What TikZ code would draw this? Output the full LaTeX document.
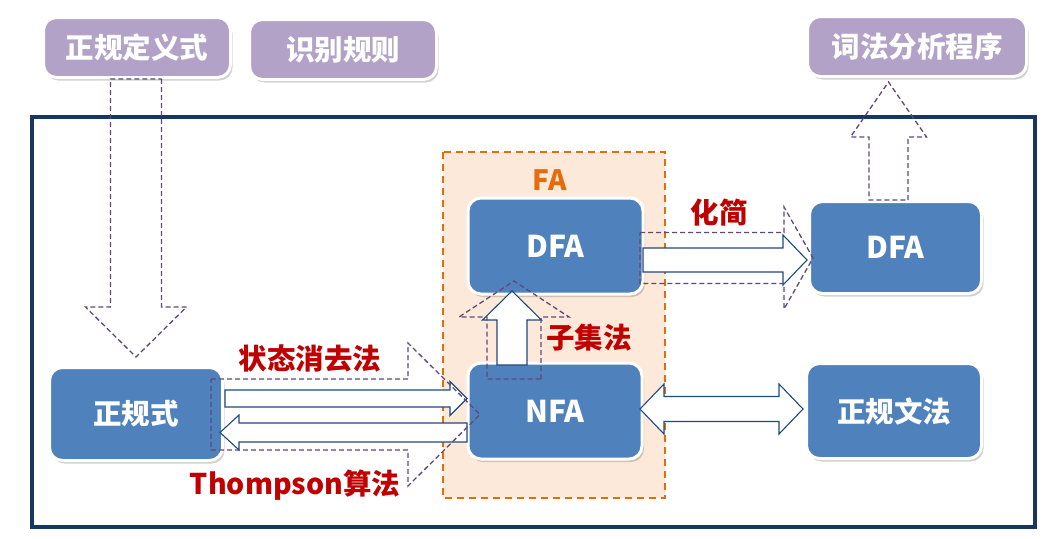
\documentclass[tikz,border=0pt]{standalone}
\usepackage{fontspec}
\setmainfont{Noto Sans CJK SC}
\usetikzlibrary{shadows,calc}
\definecolor{boxblue}{HTML}{4F81BD}
\definecolor{boxpurple}{HTML}{B3A2C7}
\definecolor{framenavy}{HTML}{17375E}
\definecolor{dashpurple}{HTML}{5F497A}
\definecolor{arrnavy}{HTML}{1F497D}
\definecolor{labred}{HTML}{C00000}
\definecolor{faorange}{HTML}{E46C0A}
\definecolor{fafill}{HTML}{FDE9D9}
\tikzset{
 basebox/.style={rounded corners=13pt, draw=white, line width=3pt, text=white,
   font=\bfseries\fontsize{28.5}{32}\selectfont, inner sep=0pt,
   drop shadow={shadow xshift=2pt, shadow yshift=-3pt, opacity=0.3, fill=black!60}},
 bluebox/.style={basebox, fill=boxblue},
 latinbox/.style={bluebox, font=\bfseries\fontsize{30}{34}\selectfont},
 purplebox/.style={basebox, fill=boxpurple},
 ghost/.style={draw=dashpurple, line width=1.3pt, dash pattern=on 5pt off 3pt, line join=miter},
 blockarr/.style={draw=arrnavy, fill=white, line width=1.1pt, line join=miter},
 redlabel/.style={text=labred, font=\bfseries\fontsize{28.5}{32}\selectfont, inner sep=0pt},
 falabel/.style={text=faorange, font=\bfseries\fontsize{28}{32}\selectfont, inner sep=0pt},
 framebox/.style={draw=framenavy, line width=3.2pt},
 fabox/.style={fill=fafill, draw=faorange, line width=2.5pt, dash pattern=on 7pt off 5pt},
}
% horizontal block arrow: style, start, tip, half shaft, half head, head length
\newcommand{\HArrow}[6]{%
 \path[#1] let \p1=(#2), \p2=(#3), \n1={\x2-sign(\x2-\x1)*#6} in
 (\x1,{\y1+#4}) -- (\n1,{\y1+#4}) -- (\n1,{\y1+#5}) -- (\x2,\y1)
 -- (\n1,{\y1-#5}) -- (\n1,{\y1-#4}) -- (\x1,{\y1-#4}) -- cycle;}
% vertical block arrow
\newcommand{\VArrow}[6]{%
 \path[#1] let \p1=(#2), \p2=(#3), \n1={\y2-sign(\y2-\y1)*#6} in
 ({\x1+#4},\y1) -- ({\x1+#4},\n1) -- ({\x1+#5},\n1) -- (\x1,\y2)
 -- ({\x1-#5},\n1) -- ({\x1-#4},\n1) -- ({\x1-#4},\y1) -- cycle;}
% double-headed horizontal block arrow (left tip, right tip)
\newcommand{\DArrow}[6]{%
 \path[#1] let \p1=(#2), \p2=(#3), \n1={\x1+#6}, \n2={\x2-#6} in
 (\x1,\y1) -- (\n1,{\y1+#5}) -- (\n1,{\y1+#4}) -- (\n2,{\y1+#4}) -- (\n2,{\y1+#5})
 -- (\x2,\y1) -- (\n2,{\y1-#5}) -- (\n2,{\y1-#4}) -- (\n1,{\y1-#4}) -- (\n1,{\y1-#5}) -- cycle;}
\begin{document}
\begin{tikzpicture}[x=1pt,y=-1pt]
\useasboundingbox (0,0) rectangle (1051,538);
\fill[white] (0,0) rectangle (1051,538);
% frame and FA group
\draw[framebox] (32,117) rectangle (1035,527);
\draw[fabox] (443,152) rectangle (665,498);
\node[falabel] (falab) at (550,180) {FA};
% nodes
\node[purplebox, minimum width=187pt, minimum height=60pt] (rdef) at (137,47.5) {正规定义式};
\node[purplebox, minimum width=187pt, minimum height=60pt] (rule) at (343,49.5) {识别规则};
\node[purplebox, minimum width=219pt, minimum height=60pt] (lex) at (917,46.5) {词法分析程序};
\node[latinbox, minimum width=175pt, minimum height=96pt] (dfaA) at (555.5,246) {DFA};
\node[latinbox, minimum width=174pt, minimum height=96pt] (nfa) at (555,411) {NFA};
\node[bluebox, minimum width=173pt, minimum height=93pt] (re) at (136,414) {正规式};
\node[latinbox, minimum width=172pt, minimum height=92pt] (dfaB) at (895.5,247.5) {DFA};
\node[bluebox, minimum width=175pt, minimum height=95pt] (gram) at (894,411) {正规文法};
% connector end points
\coordinate (gdS) at (136,79);   \coordinate (gdT) at (136,357);
\coordinate (guS) at (888.5,200); \coordinate (guT) at (888.5,82);
\coordinate (r1S) at (225,398.5); \coordinate (r1T) at (467,398.5);
\coordinate (l1S) at (467,432.5); \coordinate (l1T) at (220,432.5);
\coordinate (gbS) at (211,414.5); \coordinate (gbT) at (480,414.5);
\coordinate (s2S) at (643,260);   \coordinate (s2T) at (807,260);
\coordinate (g2S) at (640,258);   \coordinate (g2T) at (813,258);
\coordinate (s3S) at (512,365);   \coordinate (s3T) at (512,291);
\coordinate (g3S) at (514,379);   \coordinate (g3T) at (514,281);
\coordinate (dL) at (640,409);    \coordinate (dR) at (803,409);
% solid block arrows
\HArrow{blockarr}{r1S}{r1T}{8.5pt}{17pt}{17pt}
\HArrow{blockarr}{l1S}{l1T}{9.5pt}{17.5pt}{19pt}
\HArrow{blockarr}{s2S}{s2T}{12pt}{25pt}{24pt}
\VArrow{blockarr}{s3S}{s3T}{15pt}{29.5pt}{29pt}
\DArrow{blockarr}{dL}{dR}{12.5pt}{25pt}{24pt}
% ghost (dashed) arrows
\VArrow{ghost}{gdS}{gdT}{25.5pt}{50.5pt}{50pt}
\VArrow{ghost}{guS}{guT}{19.5pt}{38pt}{55pt}
\HArrow{ghost}{gbS}{gbT}{35.5pt}{71.5pt}{72pt}
\HArrow{ghost}{g2S}{g2T}{25.5pt}{51pt}{29pt}
\VArrow{ghost}{g3S}{g3T}{27pt}{55pt}{36pt}
% labels
\node[redlabel] (lab1) at (310,358) {状态消去法};
\node[redlabel] (lab2) at (295,485) {Thompson算法};
\node[redlabel] (lab3) at (719,213) {化简};
\node[redlabel] (lab4) at (589,338) {子集法};
\end{tikzpicture}
\end{document}
